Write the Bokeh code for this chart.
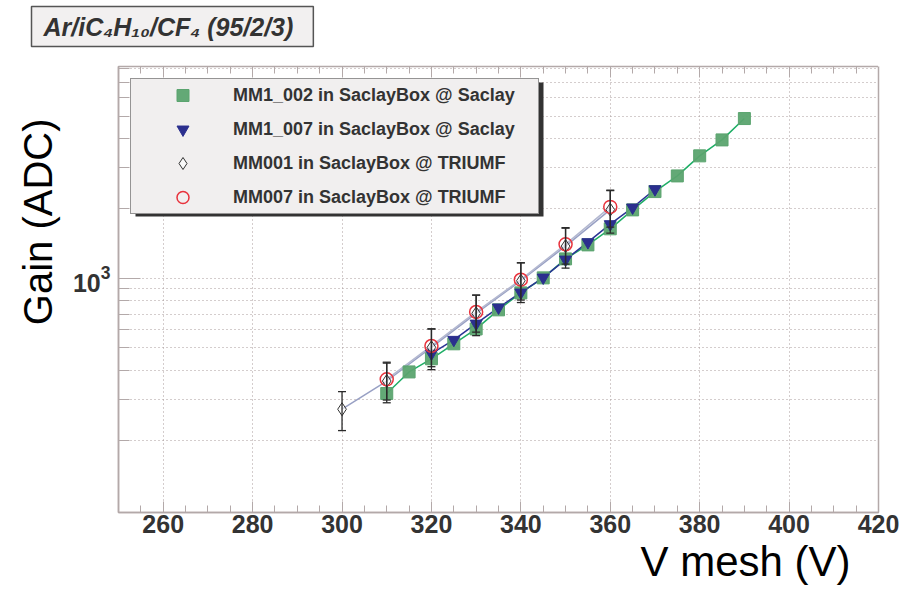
from bokeh.plotting import figure
from bokeh.models import (ColumnDataSource, FixedTicker, SingleIntervalTicker, LogTickFormatter,
                          LinearAxis, Legend, LegendItem, Whisker, TeeHead, Title,
                          BoxAnnotation, Range1d, CustomJSTickFormatter)
from bokeh.embed import file_html
from bokeh.resources import INLINE

# ---------------- data ----------------
v_mm1_002 = [310, 315, 320, 325, 330, 335, 340, 345, 350, 355, 360, 365, 370, 375, 380, 385, 390]
gain_mm1_002 = [318, 394, 449, 521, 604, 730, 864, 1003, 1211, 1392, 1633, 1971, 2364, 2762, 3371, 3950, 4883]

v_mm1_007 = [320, 325, 330, 335, 340, 345, 350, 355, 360, 365, 370]
gain_mm1_007 = [473, 542, 637, 747, 867, 1006, 1203, 1430, 1710, 2017, 2420]

v_mm001 = [300, 310, 320, 330, 340, 350, 360]
gain_mm001 = [272, 360, 503, 705, 975, 1375, 1975]
err_mm001 = [52, 70, 100, 140, 190, 270, 410]

v_mm007 = [310, 320, 330, 340, 350, 360]
gain_mm007 = [366, 510, 715, 985, 1400, 2030]
err_mm007 = [68, 95, 130, 180, 250, 370]

series_labels = ["MM1_002 in SaclayBox @ Saclay", "MM1_007 in SaclayBox @ Saclay",
                 "MM001 in SaclayBox @ TRIUMF", "MM007 in SaclayBox @ TRIUMF"]

x_range = (250, 420)
y_range = (97.5, 8190)
y_major_ticks = [1000]
y_minor_ticks = [200, 300, 400, 500, 600, 700, 800, 900, 2000, 3000, 4000, 5000, 6000, 7000, 8000]

x_title = "V mesh (V)"
y_title = "Gain (ADC)"
mixture_title = "Ar/iC\u2084H\u2081\u2080/CF\u2084 (95/2/3)"

FONT = "Liberation Sans"
AXIS_COL = "#b3a9a9"
GRID_COL = "#a89a9a"
TXT = "#333333"

# frame geometry (canvas px)
FL, FR, FT, FB = 118, 878, 66, 512

p = figure(width=902, height=595, x_range=Range1d(*x_range), y_range=Range1d(*y_range),
           y_axis_type="log", output_backend="svg", toolbar_location=None,
           min_border_left=FL, min_border_right=902 - FR, min_border_top=FT,
           min_border_bottom=595 - FB)
p.background_fill_color = "white"
p.border_fill_color = "white"
p.outline_line_color = AXIS_COL
p.outline_line_width = 1.5

# ---------------- axes ----------------
xt = SingleIntervalTicker(interval=20, num_minor_ticks=4)
yt = FixedTicker(ticks=y_major_ticks, minor_ticks=y_minor_ticks)

xa = p.below[0]
xa.ticker = xt
xa.major_label_text_font = FONT
xa.major_label_text_font_style = "bold"
xa.major_label_text_font_size = "25px"
xa.major_label_text_color = TXT
xa.major_label_standoff = 2
xa.major_tick_in = 11
xa.major_tick_out = 0
xa.minor_tick_in = 7
xa.minor_tick_out = 0
xa.axis_line_color = AXIS_COL
xa.major_tick_line_color = AXIS_COL
xa.minor_tick_line_color = AXIS_COL
xa.axis_line_width = 1.5

ya = p.left[0]
ya.ticker = yt
ya.formatter = LogTickFormatter()
ya.major_label_text_font = FONT
ya.major_label_text_font_style = "bold"
ya.major_label_text_font_size = "25px"
ya.major_label_text_color = TXT
ya.major_label_standoff = 8
ya.major_tick_in = 22
ya.major_tick_out = 0
ya.minor_tick_in = 11
ya.minor_tick_out = 0
ya.axis_line_color = AXIS_COL
ya.major_tick_line_color = AXIS_COL
ya.minor_tick_line_color = AXIS_COL
ya.axis_line_width = 1.5

top_axis = LinearAxis(ticker=xt, formatter=CustomJSTickFormatter(code="return ''"),
                      major_tick_in=11, major_tick_out=0, minor_tick_in=7, minor_tick_out=0,
                      axis_line_color=AXIS_COL, major_tick_line_color=AXIS_COL,
                      minor_tick_line_color=AXIS_COL, major_label_standoff=0)
p.add_layout(top_axis, "above")

# invisible (white) spacer between the frame and the gas-mixture box
spacer_axis = LinearAxis(ticker=FixedTicker(ticks=[x_range[1]], minor_ticks=[]),
                         formatter=CustomJSTickFormatter(code="return ''"),
                         major_tick_in=0, major_tick_out=20, minor_tick_in=0, minor_tick_out=0,
                         axis_line_color=None, major_tick_line_color="white",
                         major_tick_line_width=1, minor_tick_line_color=None,
                         major_label_standoff=0)
p.add_layout(spacer_axis, "above")

p.xgrid.ticker = xt
p.ygrid.ticker = yt
p.xgrid.grid_line_color = GRID_COL
p.xgrid.grid_line_dash = "1 3"
p.ygrid.grid_line_color = GRID_COL
p.ygrid.grid_line_dash = "1 3"
p.ygrid.minor_grid_line_color = GRID_COL
p.ygrid.minor_grid_line_dash = "1 3"

p.add_layout(Title(text=y_title, align="right", offset=52, standoff=19, text_font=FONT,
                   text_font_style="normal", text_font_size="40px", text_color="black"), "left")
p.add_layout(Title(text=x_title, align="right", offset=28, standoff=0, text_font=FONT,
                   text_font_style="normal", text_font_size="42px", text_color="black"), "below")

# gas-mixture box above the frame
p.add_layout(Title(text=mixture_title, align="left", offset=-87, standoff=0, text_font=FONT,
                   text_font_style="bold italic", text_font_size="25px", text_color=TXT,
                   background_fill_color="#f2f0f0", background_fill_alpha=1,
                   border_line_color="#555555", border_line_width=1.5,
                   padding=(12, 20, 6, 6)), "above")

# ---------------- data glyphs ----------------
s1 = ColumnDataSource(dict(x=v_mm1_002, y=gain_mm1_002))
s2 = ColumnDataSource(dict(x=v_mm1_007, y=gain_mm1_007))
s3 = ColumnDataSource(dict(x=v_mm001, y=gain_mm001,
                           lo=[g - e for g, e in zip(gain_mm001, err_mm001)],
                           hi=[g + e for g, e in zip(gain_mm001, err_mm001)]))
s4 = ColumnDataSource(dict(x=v_mm007, y=gain_mm007,
                           lo=[g - e for g, e in zip(gain_mm007, err_mm007)],
                           hi=[g + e for g, e in zip(gain_mm007, err_mm007)]))

p.line("x", "y", source=s3, line_color="#98a0c4", line_width=1.5)
p.line("x", "y", source=s4, line_color="#b3b8d0", line_width=1.5)
p.line("x", "y", source=s1, line_color="#1fae66", line_width=1.5)
p.line("x", "y", source=s2, line_color="#2b3394", line_width=1.5)

r_sq = p.scatter("x", "y", source=s1, marker="square", size=12, fill_color="#5ba46f",
                 line_color="#5ba46f", fill_alpha=0.95)
r_tri = p.scatter("x", "y", source=s2, marker="inverted_triangle", size=12,
                  fill_color="#2b2f8e", line_color="#2b2f8e")
r_dia = p.scatter("x", "y", source=s3, marker="diamond", size=13, fill_color="white",
                  fill_alpha=0.6, line_color="#333333", line_width=1)
r_cir = p.scatter("x", "y", source=s4, marker="circle", size=13, fill_color=None,
                  line_color="#e8323c", line_width=1.5)

for src in (s3, s4):
    w = Whisker(base="x", upper="hi", lower="lo", source=src, line_color="#2a2a2a",
                line_width=1.3, level="overlay",
                upper_head=TeeHead(size=8, line_color="#2a2a2a", line_width=1.3),
                lower_head=TeeHead(size=8, line_color="#2a2a2a", line_width=1.3))
    p.add_layout(w)

# ---------------- legend with shadow ----------------
p.add_layout(BoxAnnotation(left=17, right=425, top=FB - 82, bottom=FB - 216,
                           left_units="screen", right_units="screen",
                           top_units="screen", bottom_units="screen",
                           fill_color="#333333", fill_alpha=1, line_color=None))

legend = Legend(items=[LegendItem(label=series_labels[0], renderers=[r_sq]),
                       LegendItem(label=series_labels[1], renderers=[r_tri]),
                       LegendItem(label=series_labels[2], renderers=[r_dia]),
                       LegendItem(label=series_labels[3], renderers=[r_cir])],
                location="top_left", margin=12, padding=1, spacing=4,
                glyph_width=101, glyph_height=30, label_height=30, label_width=304,
                label_standoff=0, label_text_font=FONT, label_text_font_style="bold",
                label_text_font_size="18px", label_text_color=TXT,
                background_fill_color="#f1efef", background_fill_alpha=1,
                border_line_color="#3a3a3a", border_line_width=1.5)
p.add_layout(legend)

open("out.html", "w").write(file_html(p, INLINE))
